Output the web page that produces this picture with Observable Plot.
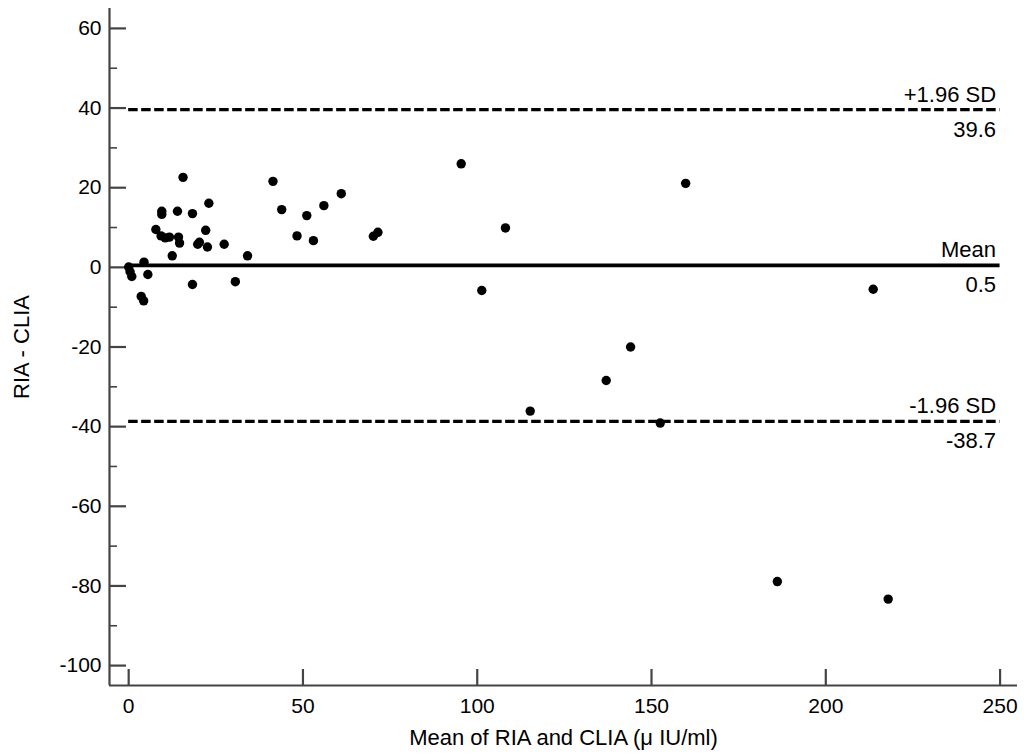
<!DOCTYPE html>
<html>
<head>
<meta charset="utf-8">
<script src="https://cdn.jsdelivr.net/npm/d3@7"></script>
<script src="https://cdn.jsdelivr.net/npm/@observablehq/plot@0.6"></script>
<style>
  html, body { margin: 0; padding: 0; background: #fff; overflow: hidden; }
</style>
</head>
<body>
<div id="chart"></div>
<script>
// Mean of RIA and CLIA (x) and difference RIA - CLIA (y)
const meanValues = [15.6, 23.0, 9.5, 9.5, 14.0, 18.3, 7.8, 22.1, 9.3, 10.5, 11.7, 14.3, 14.6, 19.8, 20.3, 22.6, 27.4, 12.5, 34.1, 4.4, 0.0, 0.4, 0.9, 5.5, 18.3, 30.6, 3.6, 4.3, 41.4, 43.9, 48.3, 51.1, 53.0, 56.0, 61.0, 70.2, 71.5, 95.4, 108.1, 101.3, 115.2, 137.0, 144.0, 152.5, 159.8, 213.6, 186.1, 217.9];
const diffValues = [22.6, 16.1, 14.1, 13.3, 14.1, 13.5, 9.5, 9.3, 7.9, 7.4, 7.6, 7.6, 6.1, 5.8, 6.3, 5.1, 5.8, 2.9, 2.9, 1.3, 0.1, -1.1, -2.3, -1.8, -4.3, -3.6, -7.3, -8.4, 21.6, 14.5, 7.9, 13.0, 6.7, 15.5, 18.5, 7.8, 8.8, 26.0, 9.9, -5.8, -36.1, -28.4, -20.0, -39.1, 21.1, -5.5, -78.9, -83.3];

// Reference lines (upper limit, mean, lower limit)
const refNames = ["+1.96 SD", "Mean", "-1.96 SD"];
const refValues = [39.6, 0.5, -38.7];
const refExtent = [0, 250];

// Axes
const xTicks = [0, 50, 100, 150, 200, 250];
const yTicks = [-100, -80, -60, -40, -20, 0, 20, 40, 60];
const yMinorTicks = [-90, -70, -50, -30, -10, 10, 30, 50];
const xDomain = [-5.5, 255];
const yDomain = [-105, 65];
const xLabel = "Mean of RIA and CLIA (\u03BC IU/ml)";
const yLabel = "RIA - CLIA";

const W = 1027, H = 754;
const mL = 109, mR = 10, mT = 8, mB = 69;
const plotW = W - mL - mR, plotH = H - mT - mB;
const axisColor = "#444";
const fmt = d => String(d);

const pts = meanValues.map((x, i) => ({x, y: diffValues[i]}));
const refs = refValues.map((v, i) => ({v, name: refNames[i], label: v.toFixed(1), dashed: i !== 1}));

const chart = Plot.plot({
  width: W,
  height: H,
  marginLeft: mL,
  marginRight: mR,
  marginTop: mT,
  marginBottom: mB,
  style: {fontSize: "21px", fontFamily: "'Liberation Sans', Arial, sans-serif", color: "#000", background: "#fff"},
  x: {domain: xDomain},
  y: {domain: yDomain},
  marks: [
    // axis lines
    Plot.ruleX([xDomain[0]], {y1: yDomain[0], y2: yDomain[1], stroke: axisColor, strokeWidth: 2.2}),
    Plot.ruleY([yDomain[0]], {x1: xDomain[0], x2: xDomain[1], stroke: axisColor, strokeWidth: 2.2}),
    // inward ticks
    Plot.tickY(yTicks, {y: d => d, insetRight: plotW - 17, stroke: axisColor, strokeWidth: 2.2}),
    Plot.tickY(yMinorTicks, {y: d => d, insetRight: plotW - 8, stroke: axisColor, strokeWidth: 1.6}),
    Plot.tickX(xTicks, {x: d => d, insetTop: plotH - 16, stroke: axisColor, strokeWidth: 2.2}),
    // tick labels
    Plot.axisY(yTicks, {tickSize: 0, tickPadding: 8, label: null, tickFormat: fmt, fontSize: 21}),
    Plot.axisX(xTicks, {tickSize: 0, tickPadding: 13, label: null, tickFormat: fmt, fontSize: 21}),
    // axis titles
    Plot.text([yLabel], {frameAnchor: "left", textAnchor: "middle", lineAnchor: "middle", rotate: -90, dx: -88, text: d => d, fontSize: 22}),
    Plot.text([xLabel], {frameAnchor: "bottom", textAnchor: "middle", lineAnchor: "middle", dy: 52, text: d => d, fontSize: 22}),
    // reference lines
    Plot.ruleY(refs.filter(d => d.dashed), {y: "v", x1: refExtent[0], x2: refExtent[1], stroke: "#000", strokeWidth: 3.2, strokeDasharray: "9.5,3.5"}),
    Plot.ruleY(refs.filter(d => !d.dashed), {y: "v", x1: refExtent[0], x2: refExtent[1], stroke: "#000", strokeWidth: 3.6}),
    Plot.text(refs, {x: () => refExtent[1], y: "v", text: "name", textAnchor: "end", lineAnchor: "bottom", dx: -4, dy: -8, fontSize: 22}),
    Plot.text(refs, {x: () => refExtent[1], y: "v", text: "label", textAnchor: "end", lineAnchor: "bottom", dx: -4, dy: 27, fontSize: 22}),
    // data points
    Plot.dot(pts, {x: "x", y: "y", r: 4.7, fill: "#000", stroke: "none"})
  ]
});
document.getElementById("chart").appendChild(chart);
</script>
</body>
</html>
